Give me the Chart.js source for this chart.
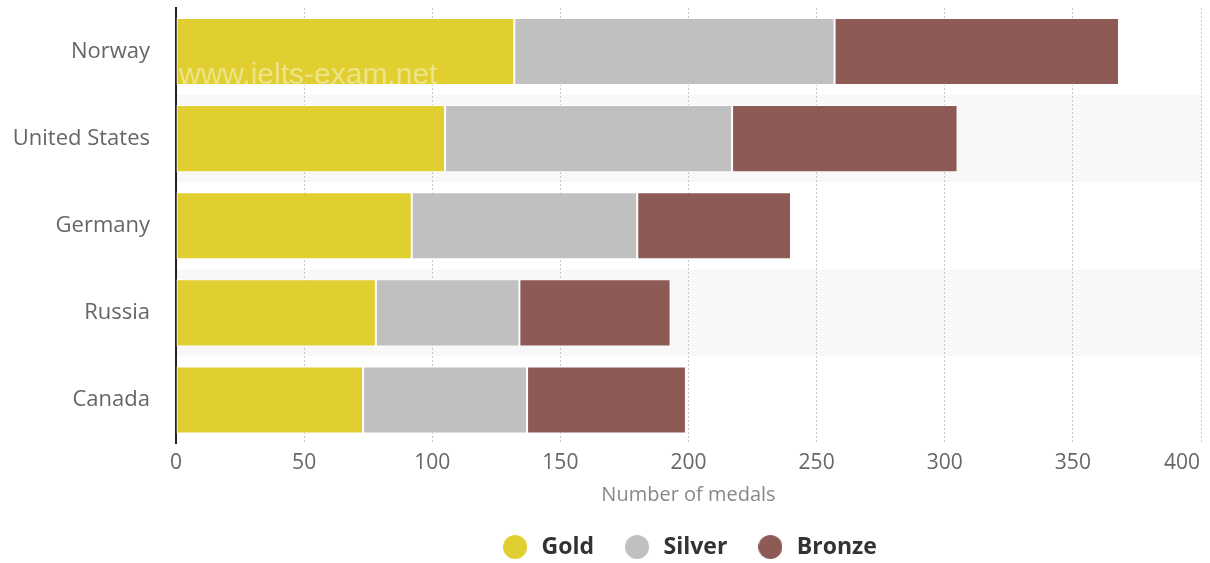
<!DOCTYPE html>
<html>
<head>
<meta charset="utf-8">
<script src="https://cdn.jsdelivr.net/npm/chart.js@4.4.1/dist/chart.umd.min.js"></script>
<style>
  html, body { margin: 0; padding: 0; background: #fff; }
  #wrap { width: 1210px; height: 563px; }
</style>
</head>
<body>
<div id="wrap"><canvas id="chart"></canvas></div>
<script>
// medal counts per country
const countries = ['Norway', 'United States', 'Germany', 'Russia', 'Canada'];
const gold = [132, 105, 92, 78, 73];
const silver = [125, 112, 88, 56, 64];
const bronze = [111, 88, 60, 59, 62];
const xTicks = [0, 50, 100, 150, 200, 250, 300, 350, 400];

const FONT = "'Open Sans', 'Noto Sans', sans-serif";
const colors = ['#e1cf31', '#c0c0c0', '#8e5a55'];

// round legend markers drawn on small canvases
const dot = color => {
  const c = document.createElement('canvas');
  c.width = 24; c.height = 24;
  const g = c.getContext('2d');
  g.fillStyle = color;
  g.beginPath();
  g.arc(12, 12, 12, 0, Math.PI * 2);
  g.fill();
  return c;
};
const dots = colors.map(dot);

// light stripes behind every second row
const stripes = {
  id: 'stripes',
  beforeDraw(chart) {
    const { ctx, chartArea } = chart;
    const y = chart.scales.y;
    const half = (y.getPixelForValue(1) - y.getPixelForValue(0)) / 2;
    ctx.save();
    ctx.fillStyle = '#f8f8f8';
    countries.forEach((c, i) => {
      if (i % 2 === 1) {
        const py = y.getPixelForValue(i);
        ctx.fillRect(chartArea.left, py - half, chartArea.right - chartArea.left, half * 2);
      }
    });
    ctx.restore();
  }
};

// watermark text over the first bar
const watermark = {
  id: 'watermark',
  afterDatasetsDraw(chart) {
    const { ctx, chartArea } = chart;
    ctx.save();
    ctx.font = "30px 'Liberation Sans', Arial, sans-serif";
    ctx.fillStyle = 'rgba(255,255,255,0.42)';
    ctx.textBaseline = 'alphabetic';
    ctx.fillText('www.ielts-exam.net', chartArea.left + 3, chartArea.top + 76);
    ctx.restore();
  }
};

// keep the legend's wide item spacing but trim its empty bottom part
const legendFit = {
  id: 'legendFit',
  beforeLayout(chart) {
    const lg = chart.legend;
    if (!lg || lg._patched) return;
    const fit = lg.fit;
    lg.fit = function () {
      fit.call(this);
      this.height = 55.5;
    };
    lg._patched = true;
  }
};

const ctx = document.getElementById('chart').getContext('2d');
new Chart(ctx, {
  type: 'bar',
  data: {
    labels: countries,
    datasets: [
      { label: 'Gold', data: gold, backgroundColor: colors[0] },
      { label: 'Silver', data: silver, backgroundColor: colors[1] },
      { label: 'Bronze', data: bronze, backgroundColor: colors[2] }
    ].map(d => ({
      ...d,
      borderColor: '#ffffff',
      borderWidth: 1,
      borderSkipped: false,
      categoryPercentage: 1,
      barPercentage: 0.77
    }))
  },
  options: {
    indexAxis: 'y',
    responsive: true,
    maintainAspectRatio: false,
    animation: false,
    layout: { padding: { top: 8, right: 9, left: 0, bottom: 0 } },
    plugins: {
      tooltip: { enabled: false },
      legend: {
        position: 'bottom',
        fullSize: false,
        labels: {
          usePointStyle: true,
          boxHeight: 17,
          pointStyleWidth: 30,
          padding: 28,
          color: '#333',
          font: { family: FONT, size: 23, weight: 'bold' },
          generateLabels: chart =>
            Chart.defaults.plugins.legend.labels.generateLabels(chart)
              .map((item, i) => ({ ...item, pointStyle: dots[i] }))
        }
      }
    },
    scales: {
      x: {
        stacked: true,
        min: 0,
        max: 400,
        afterBuildTicks: s => { s.ticks = xTicks.map(v => ({ value: v })); },
        afterFit: s => { s.height = 64; s.paddingRight = 0; s.paddingLeft = 0; },
        grid: {
          drawTicks: false,
          color: ctx => ctx.index === 0 ? 'rgba(0,0,0,0)' : '#c8c8c8',
          lineWidth: 1
        },
        border: { display: false, dash: [2, 2] },
        ticks: {
          padding: 7,
          color: '#666',
          font: { family: FONT, size: 21 },
          // last label sits left of its grid line, inside the canvas
          callback: (v, i, t) => i === t.length - 1 ? v + '       ' : v
        },
        title: {
          display: true,
          text: 'Number of medals',
          color: '#888',
          padding: { top: 2, bottom: 2.5 },
          font: { family: FONT, size: 20, lineHeight: 1 }
        }
      },
      y: {
        stacked: true,
        afterFit: s => { s.width = 176; s.paddingTop = 0; s.paddingBottom = 0; },
        grid: { display: false, drawTicks: false },
        border: { display: true, color: '#222', width: 2 },
        ticks: {
          padding: 26,
          color: '#666',
          font: { family: FONT, size: 22 }
        }
      }
    }
  },
  plugins: [stripes, watermark, legendFit]
});
</script>
</body>
</html>
